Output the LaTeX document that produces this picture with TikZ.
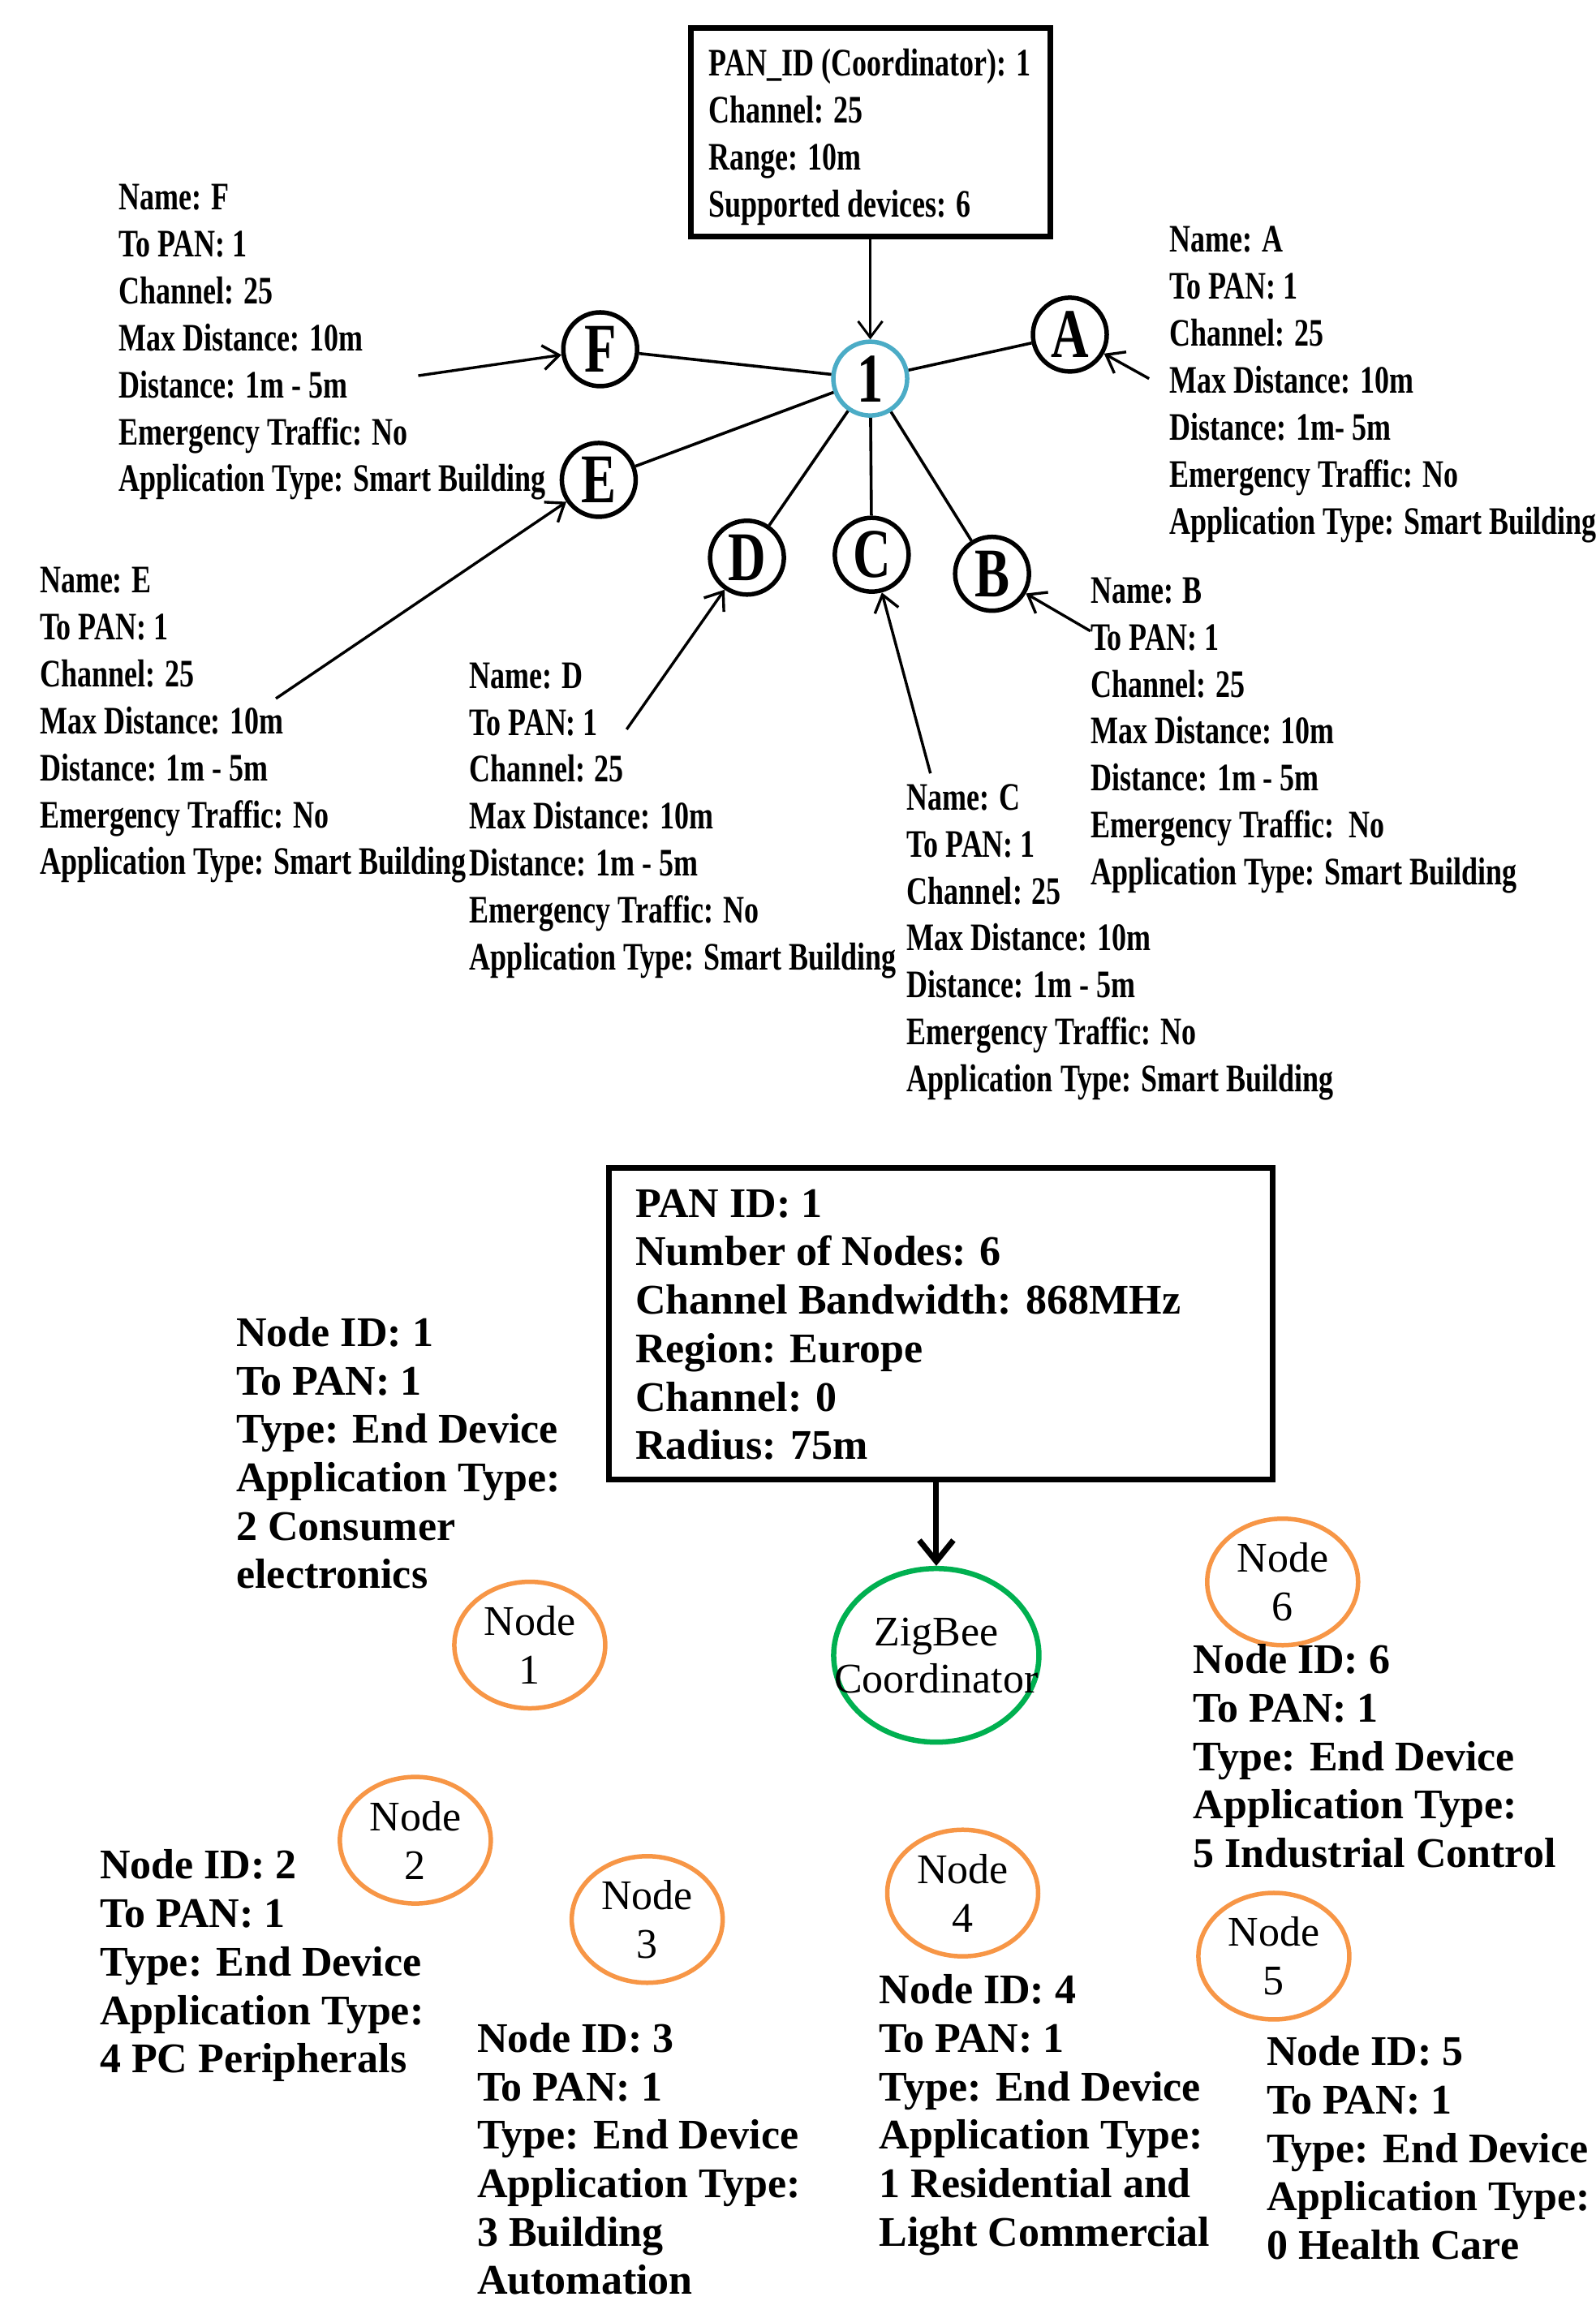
\documentclass[tikz,border=0pt]{standalone}
\usepackage{fontspec}
\setmainfont{Liberation Serif}
\newfontfamily\condfont{Liberation Serif}[FakeStretch=0.75]
\usetikzlibrary{arrows.meta,shapes.geometric}
\definecolor{hubblue}{HTML}{4BACC6}
\definecolor{nodeorange}{HTML}{F79646}
\definecolor{zbgreen}{HTML}{00B050}
\begin{document}
\begin{tikzpicture}[x=1.8087pt,y=-1.8087pt,
  toptext/.style={anchor=base west, inner sep=0pt, align=left, font=\condfont\bfseries\fontsize{48}{57.9}\selectfont},
  bottext/.style={anchor=base west, inner sep=0pt, align=left, font=\bfseries\fontsize{52}{59.7}\selectfont},
  letter/.style={circle, draw, line width=5.5pt, minimum size=91pt, inner sep=0pt, font=\condfont\bfseries\fontsize{86}{86}\selectfont},
  link/.style={line width=3.6pt},
  pointer/.style={line width=3.4pt, -{Straight Barb[length=20pt,width=30pt]}},
  infobox/.style={draw, line width=7pt, inner sep=0pt},
  devnode/.style={ellipse, draw=nodeorange, line width=5.5pt, minimum width=186pt, minimum height=156pt, inner sep=0pt, align=center, font=\fontsize{52}{60}\selectfont},
  coordnode/.style={ellipse, draw=zbgreen, line width=6.5pt, minimum width=253pt, minimum height=214pt, inner sep=0pt, align=center, font=\fontsize{52}{58}\selectfont}
]
\fill[white] (0,0) rectangle (1087,1568);
\useasboundingbox (0,0) rectangle (1087,1568);

% ---------- top network ----------
% (text nodes are anchored at the baseline of their LAST line)
\node[infobox, minimum width=443pt, minimum height=257pt] (pbox) at (593.5,90) {};
\node[toptext] (ptxt) at (483,148) {PAN\_ID (Coordinator): 1\\Channel: 25\\Range: 10m\\Supported devices: 6};

\node[letter, draw=hubblue] (c1) at (593,258) {1};
\node[letter] (F) at (409,238) {F};
\node[letter] (A) at (729,228) {A};
\node[letter] (E) at (408,327) {E};
\node[letter] (D) at (509,380) {D};
\node[letter] (C) at (594,378) {C};
\node[letter] (B) at (676,391) {B};

\draw[line width=3pt, -{Straight Barb[length=20pt,width=30pt]}] (pbox.south -| c1) -- (c1.north);
\foreach \t in {F,A,E,D,C,B} \draw[link] (c1) -- (\t);

\node[toptext] (Ft) at (81,335) {Name: F\\To PAN: 1\\Channel: 25\\Max Distance: 10m\\Distance: 1m - 5m\\Emergency Traffic: No\\Application Type: Smart Building};
\node[toptext] (At) at (797,364) {Name: A\\To PAN: 1\\Channel: 25\\Max Distance: 10m\\Distance: 1m- 5m\\Emergency Traffic: No\\Application Type: Smart Building};
\node[toptext] (Et) at (27,596) {Name: E\\To PAN: 1\\Channel: 25\\Max Distance: 10m\\Distance: 1m - 5m\\Emergency Traffic: No\\Application Type: Smart Building};
\node[toptext] (Dt) at (320,661) {Name: D\\To PAN: 1\\Channel: 25\\Max Distance: 10m\\Distance: 1m - 5m\\Emergency Traffic: No\\Application Type: Smart Building};
\node[toptext] (Ct) at (618,744) {Name: C\\To PAN: 1\\Channel: 25\\Max Distance: 10m\\Distance: 1m - 5m\\Emergency Traffic: No\\Application Type: Smart Building};
\node[toptext] (Bt) at (743,603) {Name: B\\To PAN: 1\\Channel: 25\\Max Distance: 10m\\Distance: 1m - 5m\\Emergency Traffic:\ \ No\\Application Type: Smart Building};

\coordinate (fs) at (285,256);
\coordinate (as) at (783,258);
\coordinate (es) at (188,476);
\coordinate (ds) at (427,497);
\coordinate (cs) at (634,527);
\coordinate (bs) at (743,430);
\draw[pointer] (fs) -- (F);
\draw[pointer] (as) -- (A);
\draw[pointer] (es) -- (E);
\draw[pointer] (ds) -- (D);
\draw[pointer] (cs) -- (C);
\draw[pointer] (bs) -- (B);

% ---------- bottom network ----------
\node[infobox, minimum width=817.5pt, minimum height=383.4pt] (bbox) at (641,902) {};
\node[bottext] (btxt) at (433,994.5) {PAN ID: 1\\Number of Nodes: 6\\Channel Bandwidth: 868MHz\\Region: Europe\\Channel: 0\\Radius: 75m};

\node[coordnode] (zc) at (638,1128) {\makebox[0pt]{ZigBee}\\\makebox[0pt]{Coordinator}};
\draw[line width=7pt, -{Straight Barb[length=26pt,width=42pt]}] (zc |- bbox.south) -- (zc.north);

\node[devnode] (n1) at (361,1121) {Node\\1};
\node[devnode] (n2) at (283,1254) {Node\\2};
\node[devnode] (n3) at (441,1308) {Node\\3};
\node[devnode] (n4) at (656,1290) {Node\\4};
\node[devnode] (n5) at (868,1333) {Node\\5};
\node[devnode] (n6) at (874,1078) {Node\\6};

\node[bottext] (n1t) at (161,1082.5) {Node ID: 1\\To PAN: 1\\Type: End Device\\Application Type:\\2 Consumer\\electronics};
\node[bottext] (n6t) at (813,1272.5) {Node ID: 6\\To PAN: 1\\Type: End Device\\Application Type:\\5 Industrial Control};
\node[bottext] (n2t) at (68,1412.5) {Node ID: 2\\To PAN: 1\\Type: End Device\\Application Type:\\4 PC Peripherals};
\node[bottext] (n3t) at (325,1563.5) {Node ID: 3\\To PAN: 1\\Type: End Device\\Application Type:\\3 Building\\Automation};
\node[bottext] (n4t) at (599,1530.5) {Node ID: 4\\To PAN: 1\\Type: End Device\\Application Type:\\1 Residential and\\Light Commercial};
\node[bottext] (n5t) at (863,1539.5) {Node ID: 5\\To PAN: 1\\Type: End Device\\Application Type:\\0 Health Care};
\end{tikzpicture}
\end{document}
